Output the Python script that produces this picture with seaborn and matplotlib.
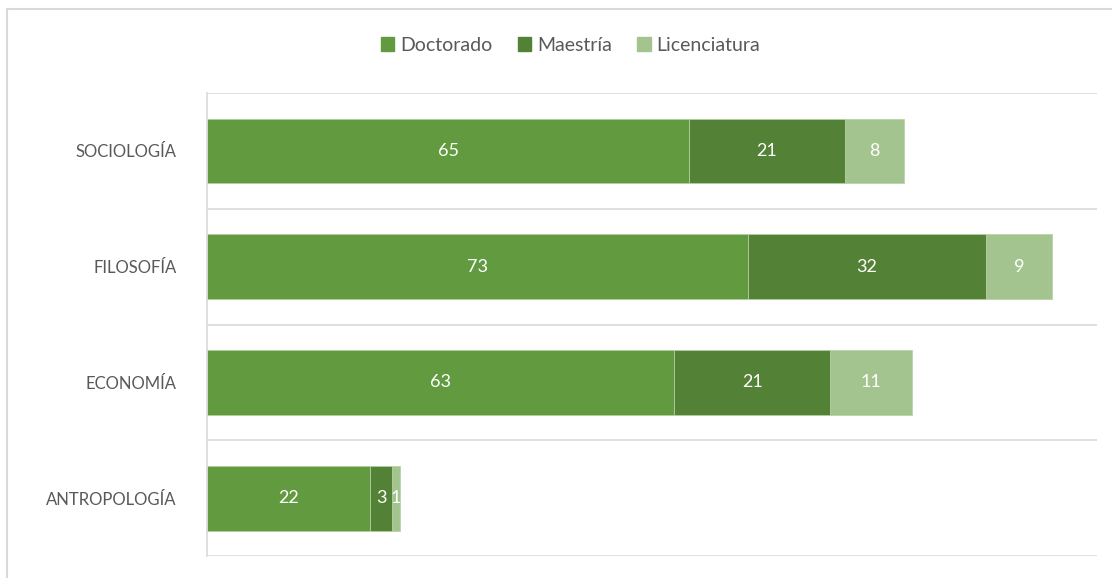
import seaborn as sns
import matplotlib.pyplot as plt
from matplotlib.patches import Rectangle
import pandas as pd

# data
carreras = ["SOCIOLOGÍA", "FILOSOFÍA", "ECONOMÍA", "ANTROPOLOGÍA"]
doctorado = [65, 73, 63, 22]
maestria = [21, 32, 21, 3]
licenciatura = [8, 9, 11, 1]

colores = {"Doctorado": "#629A40", "Maestría": "#538135", "Licenciatura": "#A3C48F"}

df = pd.DataFrame({"carrera": carreras, "Doctorado": doctorado,
                   "Maestría": maestria, "Licenciatura": licenciatura})
df["doc_mae"] = df["Doctorado"] + df["Maestría"]
df["total"] = df["doc_mae"] + df["Licenciatura"]

sns.set_style("white")
plt.rcParams["font.family"] = ["Lato", "DejaVu Sans"]

fig = plt.figure(figsize=(11.12, 5.78), dpi=100)
ax = fig.add_axes([0.1862, 0.038, 0.8003, 0.801])

# stacked bars: draw cumulative totals back to front
capas = [("total", "Licenciatura"), ("doc_mae", "Maestría"), ("Doctorado", "Doctorado")]
for col, nombre in capas:
    sns.barplot(data=df, x=col, y="carrera", orient="h", color=colores[nombre],
                saturation=1, width=0.56, edgecolor="#B9D3A8", linewidth=0.6, ax=ax)

# value labels centred in each segment
for i, fila in df.iterrows():
    inicio = 0
    for nombre in ["Doctorado", "Maestría", "Licenciatura"]:
        v = fila[nombre]
        ax.text(inicio + v / 2, i, str(v), ha="center", va="center",
                color="white", fontsize=13)
        inicio += v

ax.set_xlim(0, 120)
ax.set_ylim(3.5, -0.5)
ax.set_xlabel("")
ax.set_ylabel("")
ax.set_xticks([])
for y in [-0.5, 0.5, 1.5, 2.5, 3.5]:
    ax.axhline(y, color="#D9D9D9", linewidth=1.2, zorder=0)
for s in ["top", "right", "bottom"]:
    ax.spines[s].set_visible(False)
ax.spines["left"].set_color("#D9D9D9")
ax.spines["left"].set_linewidth(1.2)
ax.tick_params(axis="y", length=0, pad=22, labelsize=12, labelcolor="#595959")

orden = ["Doctorado", "Maestría", "Licenciatura"]
handles = [Rectangle((0, 0), 1, 1, color=colores[n]) for n in orden]
fig.legend(handles, orden, loc="center", bbox_to_anchor=(0.513, 0.922),
           ncol=3, frameon=False, fontsize=14, handlelength=0.7, handleheight=0.7,
           handletextpad=0.3, columnspacing=1.3, labelcolor="#595959")

fig.patches.append(Rectangle((0.0063, -0.05), 1.2, 1.0337, transform=fig.transFigure,
                             fill=False, edgecolor="#D9D9D9", linewidth=1.5))

fig.savefig("out.png", dpi=100)
